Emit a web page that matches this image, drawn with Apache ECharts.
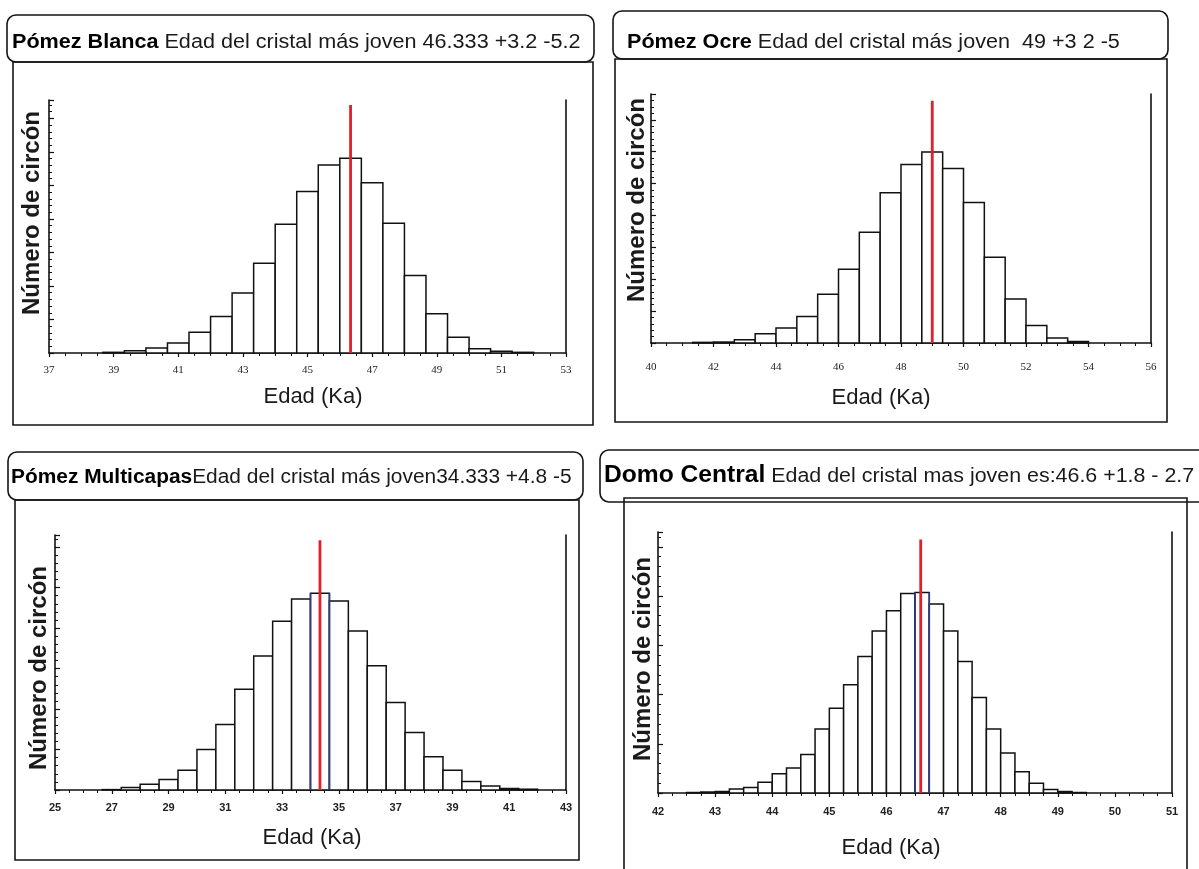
<!DOCTYPE html>
<html>
<head>
<meta charset="utf-8">
<script src="https://cdn.jsdelivr.net/npm/echarts@6/dist/echarts.min.js"></script>
<style>
  html, body { margin: 0; padding: 0; background: #ffffff; }
  #chart { width: 1199px; height: 869px; }
</style>
</head>
<body>
<div id="chart"></div>
<script>
// ---- Histogram data: zircon counts per age bin (ka) ----
// Pómez Blanca: bins 2/3 ka wide starting at 38.667 ka
const blancaBinStart = 38 + 2 / 3;
const blancaBinWidth = 2 / 3;
const blancaCounts = [2, 7, 15, 30, 62, 109, 179, 268, 384, 482, 561, 581, 508, 387, 231, 117, 47, 13, 5, 2];
const blancaAge = 46.333;

// Pómez Ocre: bins 2/3 ka wide starting at 41.333 ka
const ocreBinStart = 41 + 1 / 3;
const ocreBinWidth = 2 / 3;
const ocreCounts = [2, 3, 10, 29, 47, 83, 153, 231, 347, 471, 560, 599, 547, 441, 269, 138, 55, 16, 5];
const ocreAge = 49;

// Pómez Multicapas: bins 2/3 ka wide starting at 26.667 ka
const multiBinStart = 26 + 2 / 3;
const multiBinWidth = 2 / 3;
const multiCounts = [1, 6, 14, 26, 49, 100, 162, 249, 331, 417, 472, 486, 467, 393, 307, 216, 142, 82, 49, 21, 10, 4, 2];
const multiAge = 34.333;

// Domo Central: bins 0.25 ka wide starting at 42.5 ka
const domoBinStart = 42.5;
const domoBinWidth = 0.25;
const domoCounts = [1, 2, 3, 8, 11, 22, 39, 51, 78, 130, 172, 220, 277, 329, 370, 405, 407, 384, 329, 267, 194, 130, 81, 43, 20, 7, 3, 1];
const domoAge = 46.6;

// Panel headings
const blancaName = 'Pómez Blanca';
const blancaNote = ' Edad del cristal más joven 46.333 +3.2 -5.2';
const ocreName = 'Pómez Ocre';
const ocreNote = ' Edad del cristal más joven  49 +3 2 -5';
const multiName = 'Pómez Multicapas';
const multiNote = 'Edad del cristal más joven34.333 +4.8 -5';
const domoName = 'Domo Central';
const domoNote = ' Edad del cristal mas joven es:46.6 +1.8 - 2.7';

const xTitle = 'Edad (Ka)';
const yTitle = 'Número de circón';

// Axis ranges [min, max, tick interval] and count-axis tops
const blancaRange = [37, 53, 2];
const ocreRange = [40, 56, 2];
const multiRange = [25, 43, 2];
const domoRange = [42, 51, 1];
const blancaTop = 755, ocreTop = 781, multiTop = 630, domoTop = 530;
const blancaLineTop = 740, ocreLineTop = 760, multiLineTop = 617, domoLineTop = 515;

// ---- helpers ----
function bins(start, width, counts) {
  return counts.map((c, i) => [start + i * width, start + (i + 1) * width, c]);
}

function histItem(params, api) {
  const x0 = api.value(0), x1 = api.value(1), c = api.value(2);
  const a = api.coord([x0, c]);
  const b = api.coord([x1, 0]);
  return {
    type: 'rect',
    shape: { x: a[0], y: a[1], width: b[0] - a[0], height: b[1] - a[1] },
    style: { fill: '#ffffff', stroke: '#111111', lineWidth: 1.5 }
  };
}

const SANS = '"Liberation Sans", Arial, sans-serif';
const SERIF = '"Liberation Serif", "Times New Roman", serif';

function xAxisCfg(gi, range, labelFont, labelBold, margin) {
  return {
    type: 'value', gridIndex: gi, min: range[0], max: range[1], interval: range[2],
    axisLine: { show: true, onZero: false, lineStyle: { color: '#111', width: 1.6 } },
    axisTick: { show: true, inside: false, length: 4, lineStyle: { color: '#111', width: 1.2 } },
    minorTick: { show: true, splitNumber: 4, length: 3, lineStyle: { color: '#111', width: 1 } },
    axisLabel: {
      show: true, margin: margin, fontFamily: labelFont, fontSize: 11,
      fontWeight: labelBold ? 'bold' : 'normal', color: '#222'
    },
    splitLine: { show: false }
  };
}

function yAxisCfg(gi, top) {
  return {
    type: 'value', gridIndex: gi, min: 0, max: top, interval: 100,
    axisLine: { show: true, lineStyle: { color: '#111', width: 1.6 } },
    axisTick: { show: true, inside: true, length: 5, lineStyle: { color: '#111', width: 1.2 } },
    minorTick: { show: true, splitNumber: 5, length: 3, lineStyle: { color: '#111', width: 1 } },
    axisLabel: { show: false },
    splitLine: { show: false }
  };
}

function rightAxisCfg(gi, top) {
  return {
    type: 'value', gridIndex: gi, min: 0, max: top, position: 'right',
    axisLine: { show: true, lineStyle: { color: '#111', width: 1.6 } },
    axisTick: { show: false }, axisLabel: { show: false }, splitLine: { show: false }
  };
}

function histSeries(gi, start, width, counts) {
  return {
    type: 'custom', xAxisIndex: gi, yAxisIndex: gi * 2,
    renderItem: histItem,
    encode: { x: [0, 1], y: 2 },
    data: bins(start, width, counts),
    silent: true, z: 2
  };
}

function ageLine(gi, age, lineTop) {
  return {
    type: 'line', xAxisIndex: gi, yAxisIndex: gi * 2,
    data: [[age, 0], [age, lineTop]],
    symbol: 'none', silent: true, z: 5,
    lineStyle: { color: '#e0202a', width: 2.8 }
  };
}

// dark edges of the modal bin
function peakEdges(gi, start, width, counts) {
  const k = counts.indexOf(Math.max(...counts));
  const left = start + k * width, right = left + width;
  return [left, right].map(x => ({
    type: 'line', xAxisIndex: gi, yAxisIndex: gi * 2,
    data: [[x, 0], [x, counts[k]]],
    symbol: 'none', silent: true, z: 4,
    lineStyle: { color: '#2f3d82', width: 1.6 }
  }));
}

function heading(x, y, name, note, boldSize, size, scaleX) {
  return {
    type: 'text', x: x, y: y, scaleX: scaleX, z: 10,
    style: {
      text: '{b|' + name + '}' + note,
      font: size + 'px ' + SANS, fill: '#1a1a1a', verticalAlign: 'middle',
      rich: { b: { font: 'bold ' + boldSize + 'px ' + SANS, fill: '#000' } }
    }
  };
}

function xName(cx, cy) {
  return {
    type: 'text', x: cx, y: cy, z: 10,
    style: { text: xTitle, font: '22px ' + SANS, fill: '#1a1a1a', align: 'center', verticalAlign: 'middle' }
  };
}

function yName(cx, cy) {
  return {
    type: 'text', x: cx, y: cy, rotation: Math.PI / 2, z: 10,
    style: { text: yTitle, font: 'bold 24px ' + SANS, fill: '#1a1a1a', align: 'center', verticalAlign: 'middle' }
  };
}

function box(x, y, w, h, r) {
  return {
    type: 'rect', z: 1,
    shape: { x: x, y: y, width: w, height: h, r: r },
    style: { fill: 'none', stroke: '#151515', lineWidth: 1.6 }
  };
}

const chart = echarts.init(document.getElementById('chart'), null, { renderer: 'canvas' });

const option = {
  backgroundColor: '#ffffff',
  animation: false,
  grid: [
    { left: 49, top: 100, width: 517, height: 253 },
    { left: 651, top: 94, width: 500, height: 249 },
    { left: 55, top: 535, width: 511, height: 255 },
    { left: 658, top: 532, width: 514, height: 261 }
  ],
  xAxis: [
    xAxisCfg(0, blancaRange, SERIF, false, 12),
    xAxisCfg(1, ocreRange, SERIF, false, 19),
    xAxisCfg(2, multiRange, SANS, true, 12),
    xAxisCfg(3, domoRange, SANS, true, 13)
  ],
  yAxis: [
    yAxisCfg(0, blancaTop), rightAxisCfg(0, blancaTop),
    yAxisCfg(1, ocreTop), rightAxisCfg(1, ocreTop),
    yAxisCfg(2, multiTop), rightAxisCfg(2, multiTop),
    yAxisCfg(3, domoTop), rightAxisCfg(3, domoTop)
  ],
  series: [
    histSeries(0, blancaBinStart, blancaBinWidth, blancaCounts),
    ageLine(0, blancaAge, blancaLineTop),
    histSeries(1, ocreBinStart, ocreBinWidth, ocreCounts),
    ageLine(1, ocreAge, ocreLineTop),
    histSeries(2, multiBinStart, multiBinWidth, multiCounts),
    ...peakEdges(2, multiBinStart, multiBinWidth, multiCounts),
    ageLine(2, multiAge, multiLineTop),
    histSeries(3, domoBinStart, domoBinWidth, domoCounts),
    ...peakEdges(3, domoBinStart, domoBinWidth, domoCounts),
    ageLine(3, domoAge, domoLineTop)
  ],
  graphic: [
    // panel frames and heading boxes
    box(7, 15, 587, 47, 9), box(13, 62, 580, 363, 0),
    box(613, 11, 555, 48, 9), box(615, 59, 552, 363, 0),
    box(8, 452, 575, 48, 9), box(15, 500, 564, 360, 0),
    box(600, 450, 610, 52, 9), box(624, 498, 563, 390, 0),
    heading(12, 42, blancaName, blancaNote, 20, 20, 1.08),
    heading(627, 42, ocreName, ocreNote, 20, 20, 1.08),
    heading(11, 477, multiName, multiNote, 20, 20, 1.045),
    heading(604, 476, domoName, domoNote, 23, 20, 1.07),
    xName(313, 397), xName(881, 398), xName(312, 838), xName(891, 848),
    yName(32, 213), yName(637, 200), yName(39, 668), yName(643, 659)
  ]
};

chart.setOption(option);
</script>
</body>
</html>
